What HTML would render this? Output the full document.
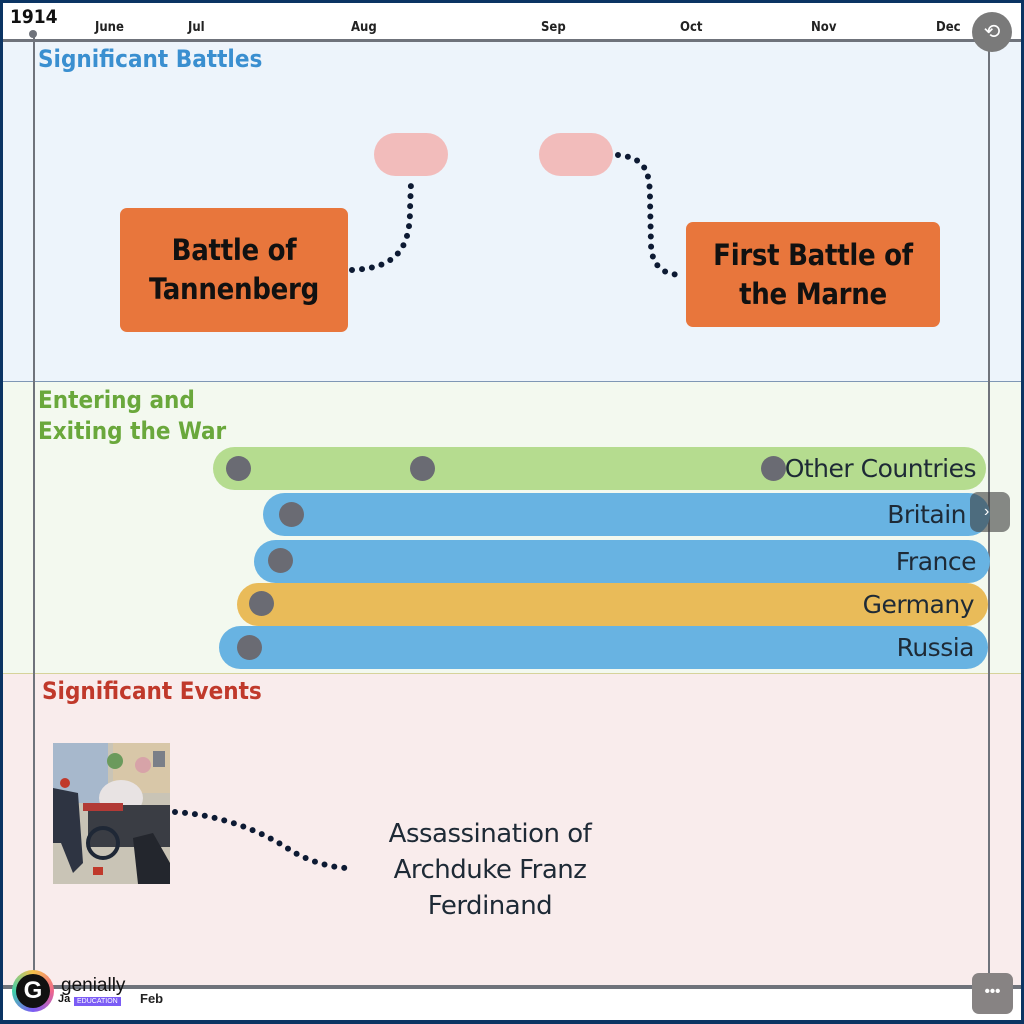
<!DOCTYPE html>
<html><head><meta charset="utf-8"><style>
*{margin:0;padding:0;box-sizing:border-box}
body{width:1024px;height:1024px;position:relative;overflow:hidden;background:#0b3463;font-family:"Liberation Sans",sans-serif}
.a{position:absolute}
.m{position:absolute;top:20px;font-size:13px;font-weight:bold;color:#222;font-family:"DejaVu Sans Condensed","Liberation Sans",sans-serif}
.bar{position:absolute;border-radius:22px;height:43px;font-size:25px;color:#1e2a36;text-align:right;line-height:43px;padding-right:14px;font-family:"DejaVu Sans","Liberation Sans",sans-serif;letter-spacing:-0.5px}
.dot{position:absolute;width:25px;height:25px;border-radius:50%;background:#6a6b73}
.ob{position:absolute;background:#e8763c;border-radius:7px;color:#111;font-weight:bold;font-size:29px;text-align:center;display:flex;align-items:center;justify-content:center;line-height:39px;font-family:"DejaVu Sans Condensed","Liberation Sans",sans-serif;letter-spacing:-0.3px}
.pill{position:absolute;background:#f2bcbb;border-radius:22px;width:74px;height:43px;top:133px}
</style></head><body>
<div class="a" style="left:3px;top:3px;width:1018px;height:1017px;background:#fff"></div>
<div class="a" style="left:3px;top:42px;width:1018px;height:339px;background:#edf4fb"></div>
<div class="a" style="left:3px;top:381px;width:1018px;height:1px;background:#7f97b5"></div>
<div class="a" style="left:3px;top:382px;width:1018px;height:291px;background:#f3f9ef"></div>
<div class="a" style="left:3px;top:673px;width:1018px;height:1px;background:#d6d39a"></div>
<div class="a" style="left:3px;top:674px;width:1018px;height:312px;background:#f9ecec"></div>
<div class="a" style="left:3px;top:39px;width:1018px;height:3px;background:#6f737b"></div>
<div class="a" style="left:3px;top:985px;width:1018px;height:4px;background:#6f737b"></div>
<div class="a" style="left:33px;top:32px;width:2px;height:958px;background:#6f737b"></div>
<div class="a" style="left:29px;top:30px;width:8px;height:8px;border-radius:50%;background:#6f737b"></div>
<div class="a" style="left:988px;top:32px;width:2px;height:958px;background:#6f737b"></div>
<div class="a" style="left:10px;top:6px;font-size:19px;font-weight:bold;color:#111;font-family:'DejaVu Sans Condensed','Liberation Sans',sans-serif">1914</div>
<div class="m" style="left:95px">June</div><div class="m" style="left:188px">Jul</div><div class="m" style="left:351px">Aug</div><div class="m" style="left:541px">Sep</div><div class="m" style="left:680px">Oct</div><div class="m" style="left:811px">Nov</div><div class="m" style="left:936px">Dec</div>
<div class="a" style="left:972px;top:12px;width:40px;height:40px;border-radius:50%;background:#7a7a7a;color:#fff;font-size:20px;text-align:center;line-height:40px">⟲</div>
<div class="a" style="left:38px;top:45px;font-size:24px;font-weight:bold;color:#3a8fd0;font-family:'DejaVu Sans Condensed','Liberation Sans',sans-serif">Significant Battles</div>
<div class="a" style="left:38px;top:385px;font-size:24px;font-weight:bold;color:#6aa83c;line-height:31px;font-family:'DejaVu Sans Condensed','Liberation Sans',sans-serif">Entering and<br>Exiting the War</div>
<div class="a" style="left:42px;top:677px;font-size:24px;font-weight:bold;color:#c0392b;font-family:'DejaVu Sans Condensed','Liberation Sans',sans-serif">Significant Events</div>
<div class="pill" style="left:374px"></div><div class="pill" style="left:539px"></div>
<svg class="a" style="left:0;top:0" width="1024" height="1024">
<g fill="none" stroke="#0d1a33" stroke-width="6" stroke-linecap="round" stroke-dasharray="0 10">
<path d="M352 270 C395 268 410 250 410 210 L411 183"/>
<path d="M618 155 C645 158 650 170 650 200 L651 245 C652 268 665 274 680 275"/>
<path d="M175 812 C220 815 260 830 290 850 C310 862 330 867 346 868"/>
</g></svg>
<div class="ob" style="left:120px;top:208px;width:228px;height:124px">Battle of<br>Tannenberg</div>
<div class="ob" style="left:686px;top:222px;width:254px;height:105px">First Battle of<br>the Marne</div>
<div class="bar" style="left:213px;top:447px;width:773px;background:#b5dc8f;padding-right:10px">Other Countries</div>
<div class="bar" style="left:263px;top:493px;width:727px;background:#68b3e2;padding-right:24px">Britain</div>
<div class="bar" style="left:254px;top:540px;width:736px;background:#68b3e2">France</div>
<div class="bar" style="left:237px;top:583px;width:751px;background:#e9bb59">Germany</div>
<div class="bar" style="left:219px;top:626px;width:769px;background:#68b3e2">Russia</div>
<div class="dot" style="left:226px;top:456px"></div><div class="dot" style="left:410px;top:456px"></div><div class="dot" style="left:761px;top:456px"></div>
<div class="dot" style="left:279px;top:502px"></div><div class="dot" style="left:268px;top:548px"></div><div class="dot" style="left:249px;top:591px"></div><div class="dot" style="left:237px;top:635px"></div>
<div class="a" style="left:970px;top:492px;width:40px;height:40px;border-radius:8px;background:rgba(60,60,60,.6);color:#fff;font-size:16px;line-height:40px;padding-left:14px">›</div>
<svg class="a" style="left:53px;top:743px" width="117" height="141">
<rect width="117" height="141" fill="#c9c4b6"/>
<rect x="0" y="0" width="55" height="60" fill="#a7b8cc"/>
<rect x="60" y="0" width="57" height="50" fill="#d8c7a8"/>
<rect x="100" y="8" width="12" height="16" fill="#7a7f88"/>
<ellipse cx="68" cy="55" rx="22" ry="18" fill="#e8e3e3"/>
<rect x="35" y="62" width="82" height="42" fill="#3a3d44"/>
<circle cx="50" cy="100" r="15" fill="none" stroke="#1f2836" stroke-width="4"/>
<path d="M0 45 L25 50 L30 120 L20 130 L8 100 L0 100Z" fill="#2e3442"/>
<path d="M80 95 L100 90 L117 120 L117 141 L85 141Z" fill="#23262d"/>
<circle cx="12" cy="40" r="5" fill="#c0392b"/><circle cx="90" cy="22" r="8" fill="#d7a3a8"/>
<rect x="30" y="60" width="40" height="8" fill="#b23a36"/>
<circle cx="62" cy="18" r="8" fill="#6b9a5c"/>
<rect x="40" y="124" width="10" height="8" fill="#c0392b"/>
</svg>
<div class="a" style="left:358px;top:816px;width:264px;text-align:center;font-size:26px;line-height:36px;color:#1e2a36;font-family:'DejaVu Sans','Liberation Sans',sans-serif;letter-spacing:-0.5px">Assassination of Archduke Franz Ferdinand</div>
<div class="a" style="left:12px;top:970px;width:42px;height:42px;border-radius:50%;background:conic-gradient(#f5c04a,#f0668c,#7b5cf5,#3fd0a8,#f5c04a)"></div>
<div class="a" style="left:16px;top:974px;width:34px;height:34px;border-radius:50%;background:#111;color:#fff;font-size:24px;font-weight:bold;text-align:center;line-height:34px">G</div>
<div class="a" style="left:61px;top:975px;font-size:19px;color:#111">genially</div>
<div class="a" style="left:58px;top:993px;font-size:11px;font-weight:bold;color:#111">Ja</div>
<div class="a" style="left:74px;top:997px;background:#7b5cf5;color:#fff;font-size:7px;padding:1px 3px">EDUCATION</div>
<div class="a" style="left:140px;top:991px;font-size:13px;font-weight:bold;color:#222">Feb</div>
<div class="a" style="left:972px;top:973px;width:41px;height:41px;border-radius:7px;background:#878383;color:#fff;text-align:center;font-size:15px;line-height:38px;font-weight:bold">•••</div>
</body></html>
